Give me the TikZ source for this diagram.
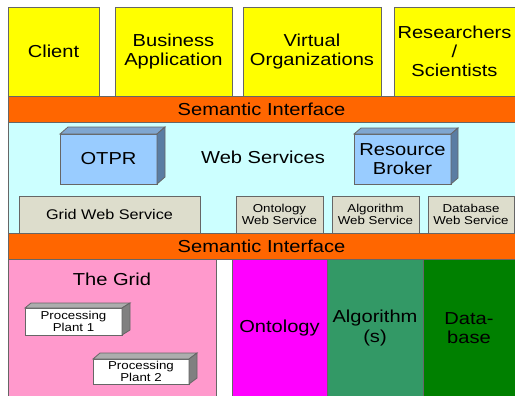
\documentclass[tikz,border=0pt]{standalone}
\usepackage{fontspec}
\setmainfont{Liberation Sans}[FakeStretch=1.16]
\usetikzlibrary{positioning}

\definecolor{userYellow}{HTML}{FFFF00}
\definecolor{semOrange}{HTML}{FF6600}
\definecolor{wsCyan}{HTML}{CCFFFF}
\definecolor{wsGrey}{HTML}{DDDDCC}
\definecolor{boxBlue}{HTML}{99CCFF}
\definecolor{boxBlueTop}{HTML}{7FA6D0}
\definecolor{boxBlueSide}{HTML}{5A7DA3}
\definecolor{gridPink}{HTML}{FF99CC}
\definecolor{ontoMagenta}{HTML}{FF00FF}
\definecolor{algoGreen}{HTML}{339966}
\definecolor{dbGreen}{HTML}{008000}

\begin{document}
\begin{tikzpicture}[x=0.75pt,y=-0.75pt,line width=0.6pt,
    big/.style={font=\fontsize{13}{14.4}\selectfont,align=center},
    mid/.style={font=\fontsize{10.5}{12}\selectfont,align=center},
    small/.style={font=\fontsize{8.6}{9.4}\selectfont,align=center},
    lyr/.style={draw=black!60},
    user/.style={lyr,fill=userYellow},
    semantic/.style={lyr,fill=semOrange},
    wsbox/.style={lyr,fill=wsGrey},
    front/.style={draw=black!60,fill=boxBlue},
    top/.style={draw=black!60,fill=boxBlueTop},
    side/.style={draw=black!60,fill=boxBlueSide},
    plant/.style={draw=black!60,fill=white},
    plantTop/.style={draw=black!60,fill=black!32},
    plantSide/.style={draw=black!60,fill=black!50}]
    \useasboundingbox (0,0) rectangle (515,396);

    % users on top
    \draw[user] (8,7) rectangle (99,96) node[midway,big] (client) {Client};
    \draw[user] (115,7) rectangle (232,96) node[midway,big] (business) {Business\\Application};
    \draw[user] (243,7) rectangle (381,96) node[midway,big] (virtual) {Virtual\\Organizations};
    \draw[user] (394,7) rectangle (515,96) node[midway,big] (research) {Researchers\\/\\Scientists};

    \draw[semantic] (8,96) rectangle (515,122) node[midway,big] (semUp) {Semantic Interface};

    % web services layer
    \draw[lyr,fill=wsCyan] (8,122) rectangle (515,233);
    \node[big] (ws) at (263,157) {Web Services};

    \draw[front] (60,134) rectangle (157,184) node[midway,big] (otpr) {OTPR};
    \draw[top] (60,134) -- (68,127) -- (165,127) -- (157,134) -- cycle;
    \draw[side] (157,134) -- (165,127) -- (165,177) -- (157,184) -- cycle;

    \draw[front] (354,134) rectangle (451,184) node[midway,big] (broker) {Resource\\Broker};
    \draw[top] (354,134) -- (361,128) -- (458,128) -- (451,134) -- cycle;
    \draw[side] (451,134) -- (458,128) -- (458,178) -- (451,184) -- cycle;

    \draw[wsbox] (19,196) rectangle (200,233) node[midway,mid] (gridws) {Grid Web Service};
    \draw[wsbox] (236,196) rectangle (323,233) node[midway,small] (ontows) {Ontology\\Web Service};
    \draw[wsbox] (332,196) rectangle (419,233) node[midway,small] (algows) {Algorithm\\Web Service};
    \draw[wsbox] (428,196) rectangle (514,233) node[midway,small] (dbws) {Database\\Web Service};

    \draw[semantic] (8,233) rectangle (515,259) node[midway,big] (semLow) {Semantic Interface};

    % resources at the bottom
    \draw[lyr,fill=gridPink] (8,259) rectangle (216,397);
    \node[big] (grid) at (112,279) {The Grid};

    \draw[plant] (25,308) rectangle (122,335) node[midway,small] (plant1) {Processing\\Plant 1};
    \draw[plantTop] (25,308) -- (31,303) -- (130,303) -- (122,308) -- cycle;
    \draw[plantSide] (122,308) -- (130,303) -- (130,330) -- (122,335) -- cycle;

    \draw[plant] (93,359) rectangle (189,384) node[midway,small] (plant2) {Processing\\Plant 2};
    \draw[plantTop] (93,359) -- (100,353) -- (197,353) -- (189,359) -- cycle;
    \draw[plantSide] (189,359) -- (197,353) -- (197,378) -- (189,384) -- cycle;

    \draw[lyr,fill=ontoMagenta] (232,259) rectangle (327,397) node[midway,big] (onto) {Ontology};
    \draw[lyr,fill=algoGreen] (327,259) rectangle (423,397) node[midway,big] (algo) {Algorithm\\(s)};
    \draw[lyr,fill=dbGreen] (423,259) rectangle (515,397) node[midway,big] (db) {Data-\\base};
\end{tikzpicture}
\end{document}
